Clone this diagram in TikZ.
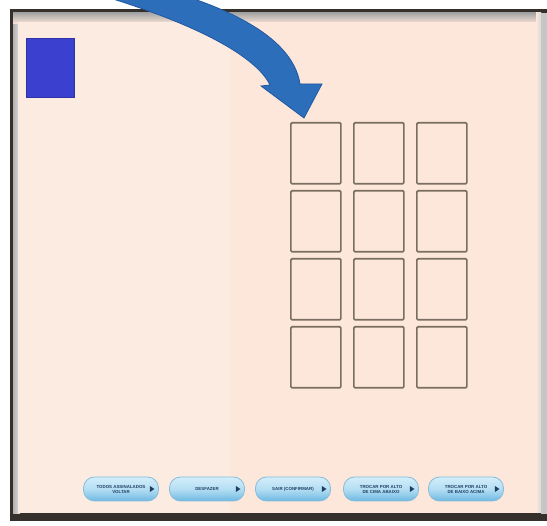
\documentclass[tikz,border=0pt]{standalone}
\usepackage{fontspec}
\setsansfont{Liberation Sans}
\definecolor{panel}{HTML}{FCE7DA}
\definecolor{panelL}{HTML}{FCEBE1}
\definecolor{framedark}{HTML}{35302C}
\definecolor{boxline}{HTML}{7A6E63}
\definecolor{sqblue}{HTML}{3B40CF}
\definecolor{arrowblue}{HTML}{2D6EBB}
\definecolor{arrowdark}{HTML}{2258A0}
\definecolor{btntop}{HTML}{D3EEFA}
\definecolor{btnbot}{HTML}{6DB9E2}
\definecolor{btnline}{HTML}{86BCDC}
\definecolor{btntext}{HTML}{1F3F66}
\begin{document}
\begin{tikzpicture}[x=1pt,y=-1pt,
  cell/.style={draw=boxline, line width=1.7pt, rounded corners=1.2pt, minimum width=50pt, minimum height=61pt, inner sep=0pt},
  btn/.style={draw=btnline, line width=0.8pt, rounded corners=11pt, minimum width=75pt, minimum height=24pt, inner sep=0pt,
    top color=btntop, bottom color=btnbot, middle color=btntop!70!btnbot,
    font=\sffamily\bfseries\fontsize{4.4}{5}\selectfont, text=btntext, align=center},
  tri/.style={fill=btntext, draw=none}]
\useasboundingbox (0,0) rectangle (547,526);
\fill[white] (0,0) rectangle (547,526);
% frame
\fill[framedark] (10,9) rectangle (547,521);
\shade[left color=gray!60, right color=gray!25] (13,13) rectangle (20,514);
\shade[top color=gray!70, bottom color=panel] (13,13) rectangle (541,24);
\fill[panel] (18,22) rectangle (541,513);
\fill[panelL] (18,22) rectangle (230,513);
\shade[left color=panel, right color=gray!30] (536,13) rectangle (541,513);
\fill[gray!45] (541,13) rectangle (547,514);
% blue square
\node[fill=sqblue, draw=sqblue!80!black, line width=0.5pt, minimum width=48pt, minimum height=59pt, inner sep=0pt, anchor=north west] (sq) at (26,38) {};
% grid of cells
\foreach \r/\y in {1/122,2/190,3/258,4/326}{
  \foreach \c/\x in {1/290,2/353,3/416}{
    \node[cell, anchor=north west] (b\r\c) at (\x,\y) {};
  }
}
% curved arrow
\coordinate (tip) at (304,118);
\begin{scope}
\clip (0,0) rectangle (547,526);
\fill[arrowblue, draw=arrowdark, line width=0.8pt]
  (182,-5) .. controls (248,16) and (294,45) .. (300,84)
  -- (322,84) -- (tip) -- (261,86) -- (270,85)
  .. controls (256,56) and (196,24) .. (100,-5) -- cycle;
\end{scope}
% buttons
\node[btn] (k1) at (121,489) {TODOS ASSINALADOS\\VOLTAR};
\node[btn] (k2) at (207,489) {DESFAZER};
\node[btn] (k3) at (293,489) {SAIR (CONFIRMAR)};
\node[btn] (k4) at (381,489) {TROCAR POR ALTO\\DE CIMA ABAIXO};
\node[btn] (k5) at (466,489) {TROCAR POR ALTO\\DE BAIXO ACIMA};
\foreach \k in {k1,k2,k3,k4,k5}{
  \fill[tri] ([xshift=-9pt,yshift=3pt]\k.east) -- ([xshift=-4.5pt]\k.east) -- ([xshift=-9pt,yshift=-3pt]\k.east) -- cycle;
}
\end{tikzpicture}
\end{document}
